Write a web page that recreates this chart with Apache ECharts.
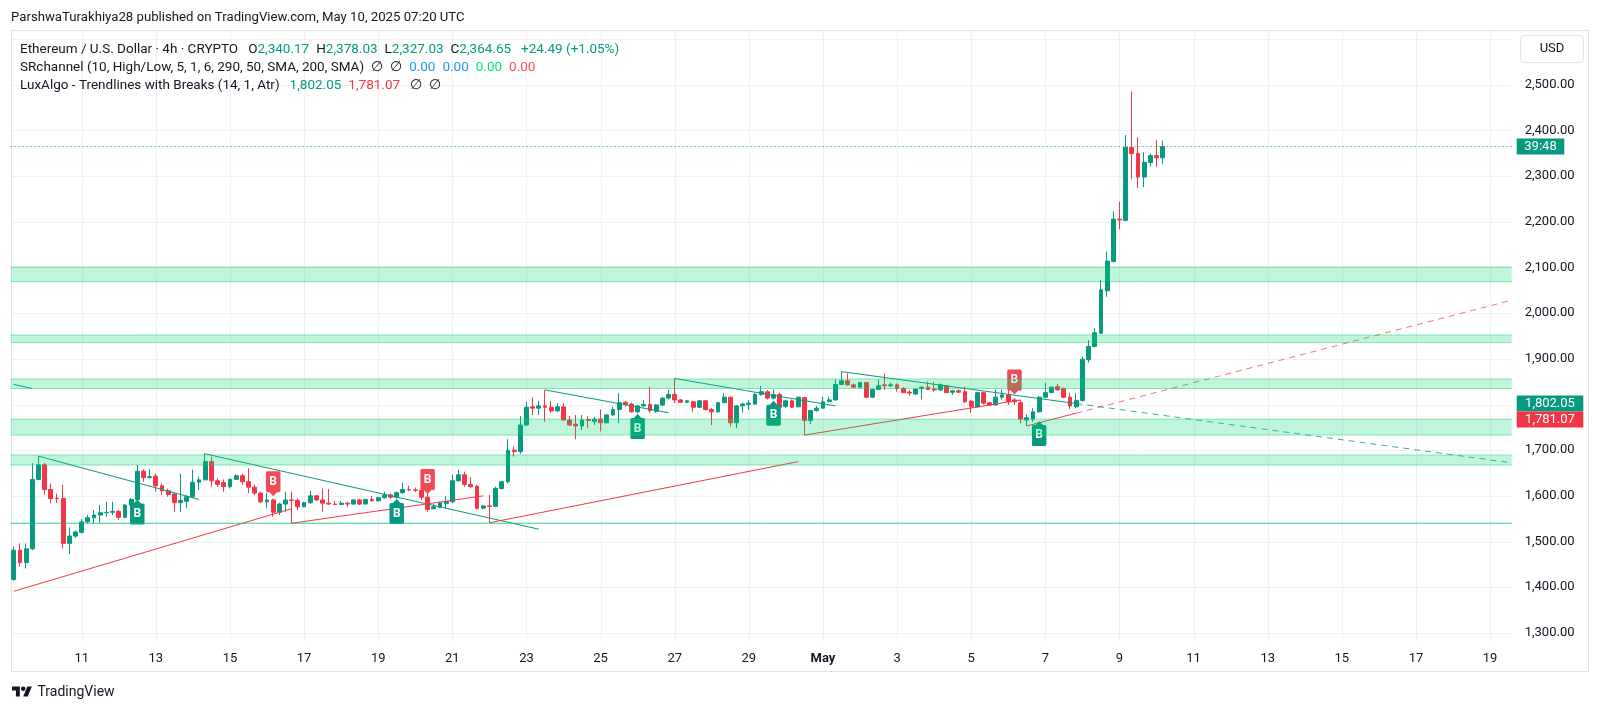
<!DOCTYPE html>
<html><head><meta charset="utf-8">
<script src="https://cdn.jsdelivr.net/npm/echarts@6/dist/echarts.min.js"></script>
<style>html,body{margin:0;padding:0;background:#fff;}#c{width:1600px;height:712px;}</style>
</head><body><div id="c"></div>
<script>
// ---------- data ----------
const startTime = Date.UTC(2025, 3, 9, 4, 0); // first 4h slot
const slotTotal = 243;                         // slots shown on the time axis
// [open, high, low, close] per 4h candle
const candles = [
[1417,1489,1414,1481],[1481,1496,1445,1454],[1454,1496,1441,1484],[1484,1671,1481,1636],[1636,1687,1634,1668],
[1668,1672,1602,1614],[1614,1627,1584,1594],[1595,1605,1584,1594],[1594,1624,1485,1496],[1496,1531,1473,1512],
[1512,1524,1508,1521],[1520,1549,1518,1543],[1543,1558,1540,1552],[1552,1569,1540,1558],[1558,1580,1540,1563],
[1563,1587,1554,1564],[1564,1587,1558,1566],[1566,1569,1547,1553],[1553,1582,1551,1580],[1580,1595,1576,1592],
[1592,1668,1591,1654],[1654,1658,1631,1640],[1640,1658,1638,1642],[1643,1649,1609,1622],[1622,1627,1602,1611],
[1611,1616,1598,1603],[1604,1605,1565,1585],[1585,1649,1565,1590],[1588,1602,1573,1598],[1598,1657,1595,1630],
[1630,1642,1613,1635],[1635,1693,1635,1675],[1675,1686,1620,1633],[1633,1638,1620,1625],[1629,1636,1609,1620],
[1620,1638,1616,1636],[1636,1647,1635,1644],[1644,1649,1624,1631],[1631,1660,1606,1619],[1619,1624,1602,1606],
[1606,1609,1584,1587],[1587,1606,1573,1591],[1591,1594,1554,1564],[1564,1585,1558,1582],[1582,1609,1565,1591],
[1591,1609,1540,1590],[1590,1594,1569,1576],[1576,1587,1575,1585],[1585,1611,1582,1600],[1600,1602,1589,1591],
[1591,1616,1565,1584],[1584,1615,1580,1582],[1582,1589,1580,1581],[1581,1589,1580,1584],[1584,1587,1576,1582],
[1582,1592,1580,1591],[1591,1594,1580,1582],[1582,1594,1582,1592],[1592,1600,1587,1589],[1589,1598,1587,1596],
[1596,1609,1594,1602],[1602,1605,1594,1597],[1597,1609,1594,1607],[1607,1629,1604,1614],[1614,1622,1611,1613],
[1613,1618,1608,1612],[1612,1613,1591,1597],[1597,1606,1565,1570],[1572,1582,1570,1576],[1575,1587,1573,1585],
[1583,1600,1573,1587],[1587,1646,1584,1633],[1633,1657,1631,1646],[1646,1653,1620,1625],[1625,1641,1618,1620],
[1621,1624,1570,1573],[1573,1580,1571,1578],[1578,1602,1541,1577],[1577,1620,1576,1616],[1616,1633,1614,1631],
[1631,1724,1627,1700],[1700,1708,1686,1697],[1697,1775,1692,1755],[1755,1806,1754,1794],[1795,1816,1777,1792],
[1792,1808,1777,1797],[1797,1832,1762,1794],[1794,1808,1782,1786],[1786,1803,1784,1795],[1795,1803,1765,1766],
[1766,1775,1753,1755],[1757,1777,1724,1753],[1753,1777,1744,1766],[1767,1775,1748,1765],[1763,1773,1755,1768],
[1768,1789,1741,1760],[1760,1779,1759,1777],[1777,1795,1775,1789],[1789,1825,1759,1804],[1805,1808,1795,1800],
[1801,1804,1782,1784],[1784,1799,1781,1797],[1797,1810,1795,1800],[1800,1839,1782,1787],[1785,1801,1782,1799],
[1799,1816,1797,1814],[1814,1832,1811,1822],[1822,1857,1803,1810],[1810,1812,1803,1805],[1805,1810,1803,1808],
[1806,1808,1784,1794],[1794,1810,1792,1808],[1808,1810,1787,1789],[1789,1792,1755,1784],[1784,1806,1782,1804],
[1804,1825,1803,1816],[1816,1817,1752,1760],[1760,1799,1748,1797],[1797,1804,1782,1801],[1800,1810,1788,1803],
[1801,1825,1799,1822],[1822,1841,1819,1828],[1828,1832,1811,1814],[1814,1833,1811,1822],[1822,1826,1781,1794],
[1796,1810,1792,1808],[1808,1811,1792,1794],[1795,1817,1794,1816],[1815,1817,1733,1765],[1765,1788,1757,1787],
[1787,1797,1784,1792],[1792,1817,1790,1806],[1807,1817,1804,1810],[1810,1855,1809,1844],[1844,1872,1843,1852],
[1852,1868,1841,1843],[1843,1846,1836,1838],[1838,1850,1836,1848],[1848,1849,1814,1816],[1816,1835,1814,1833],
[1833,1855,1832,1841],[1843,1868,1832,1841],[1841,1848,1838,1843],[1843,1846,1828,1835],[1835,1838,1825,1826],
[1827,1832,1819,1825],[1823,1835,1821,1834],[1835,1839,1811,1838],[1838,1850,1832,1833],[1834,1850,1828,1832],
[1832,1846,1830,1843],[1841,1843,1825,1826],[1827,1832,1821,1830],[1830,1833,1825,1827],[1828,1839,1803,1806],
[1807,1810,1782,1795],[1795,1828,1793,1826],[1826,1828,1800,1803],[1804,1806,1797,1799],[1799,1833,1797,1816],
[1816,1833,1811,1821],[1821,1832,1799,1806],[1810,1814,1799,1806],[1804,1810,1759,1768],[1766,1779,1753,1771],
[1768,1792,1762,1784],[1784,1819,1782,1816],[1816,1848,1814,1826],[1826,1839,1825,1838],[1839,1845,1830,1832],
[1835,1837,1814,1816],[1816,1826,1790,1797],[1795,1825,1792,1809],[1809,1905,1806,1899],[1898,1941,1892,1927],
[1927,1967,1925,1957],[1956,2073,1955,2051],[2049,2135,2036,2114],[2113,2223,2111,2206],[2206,2244,2184,2204],
[2203,2390,2201,2363],[2363,2485,2293,2349],[2350,2385,2274,2298],[2298,2352,2276,2330],[2330,2350,2321,2345],
[2345,2379,2320,2340.16],[2340.17,2378.03,2327.03,2364.65]
];
const srZones = [[2069,2101],[1935.5,1952],[1835,1856],[1733,1768],[1667.5,1689.5],[1539.5,1540.5]];
const upperTrendlines = [
  [[0,1844],[3,1835]], [[4,1687],[30,1592]], [[31,1692],[85,1527]],
  [[86,1832],[106,1782]], [[107,1857],[133,1797]], [[134,1872],[172,1802.05]]
];
const upperExtension = [[172,1802.05],[242,1673.2]];
const lowerTrendlines = [
  [[0,1391],[45,1572]], [[45,1540],[76,1600]], [[77,1541],[127,1675]],
  [[128,1733],[163,1810]], [[164,1753],[172,1781.07]]
];
const lowerExtension = [[172,1781.07],[242,2026.7]];
const breakUpLabels = [[20,1592],[62,1593],[101,1779],[123,1808],[166,1764]];
const breakDownLabels = [[42,1599],[67,1604],[162,1822]];
const priceGridValues = [1300,1400,1500,1600,1700,1800,1900,2000,2100,2200,2300,2400,2500,2600];
const priceLabelValues = [1300,1400,1500,1600,1700,1800,1900,2000,2100,2200,2300,2400,2500];
const lastPrice = 2364.65;
const upperValue = 1802.05, lowerValue = 1781.07;
const countdownText = '39:48';

// ---------- build ----------
const UP = '#089981', DOWN = '#f23645', TXT = '#131722', GRID = '#eef0f4';
const categories = [];
for (let i = 0; i < slotTotal; i++) categories.push(new Date(startTime + i * 4 * 3600e3).toISOString().slice(0, 16));
function isDayTick(index, value) {
  const d = new Date(value + ':00Z');
  return d.getUTCHours() === 0 && d.getUTCDate() % 2 === 1;
}
const dayTickIndices = categories.map((c, i) => isDayTick(i, c) ? i : -1).filter(i => i >= 0);
const fmt = v => v.toLocaleString('en-US', {minimumFractionDigits: 2, maximumFractionDigits: 2});

const chart = echarts.init(document.getElementById('c'), null, {renderer: 'canvas'});
const series = [];
series.push({
  type: 'custom', z: 0, silent: true, data: dayTickIndices.map(i => [i, 2000]),
  renderItem: (p, api) => {
    const cs = p.coordSys; const x = Math.round(api.coord([api.value(0), 2000])[0]) + 0.5;
    return {type: 'line', shape: {x1: x, y1: cs.y, x2: x, y2: cs.y + cs.height}, style: {stroke: GRID, lineWidth: 1}};
  }
});
series.push({
  type: 'custom', z: 0, silent: true, data: priceGridValues.map(v => [0, v]),
  renderItem: (p, api) => {
    const cs = p.coordSys; const y = Math.round(api.coord([0, api.value(1)])[1]) + 0.5;
    return {type: 'line', shape: {x1: cs.x, y1: y, x2: cs.x + cs.width, y2: y}, style: {stroke: GRID, lineWidth: 1}};
  }
});
series.push({
  type: 'candlestick', z: 2, silent: true, barWidth: '70%',
  data: candles.map(c => [c[0], c[3], c[2], c[1]]),
  itemStyle: {color: UP, color0: DOWN, borderColor: UP, borderColor0: DOWN, borderWidth: 1},
  markLine: {silent: true, z: 6, symbol: ['none', 'none'], label: {show: false},
    lineStyle: {color: UP, type: [1, 3], width: 1}, data: [{yAxis: lastPrice}]}
});
upperTrendlines.forEach(seg => series.push({type: 'line', z: 3, silent: true, symbol: 'none', data: seg, lineStyle: {color: UP, width: 1}}));
lowerTrendlines.forEach(seg => series.push({type: 'line', z: 3, silent: true, symbol: 'none', data: seg, lineStyle: {color: DOWN, width: 1}}));
series.push({type: 'line', z: 3, silent: true, symbol: 'none', data: upperExtension, lineStyle: {color: UP, width: 1, type: [6, 5], opacity: 0.8}});
series.push({type: 'line', z: 3, silent: true, symbol: 'none', data: lowerExtension, lineStyle: {color: DOWN, width: 1, type: [6, 5], opacity: 0.7}});
series.push({
  type: 'scatter', z: 4, silent: true, data: breakUpLabels,
  symbol: 'path://M7.25 0 L11 4 L13 4 Q14.5 4 14.5 5.5 L14.5 23.5 Q14.5 25 13 25 L1.5 25 Q0 25 0 23.5 L0 5.5 Q0 4 1.5 4 L3.5 4 Z',
  symbolSize: [14.5, 25], symbolOffset: [0, 12.5], itemStyle: {color: UP, opacity: 1},
  label: {show: true, formatter: 'B', position: 'inside', offset: [0, 2], color: '#fff', fontWeight: 'bold', fontSize: 12, fontFamily: 'Roboto'}
});
series.push({
  type: 'scatter', z: 4, silent: true, data: breakDownLabels,
  symbol: 'path://M0 1.5 Q0 0 1.5 0 L13 0 Q14.5 0 14.5 1.5 L14.5 19.5 Q14.5 21 13 21 L11 21 L7.25 25 L3.5 21 L1.5 21 Q0 21 0 19.5 Z',
  symbolSize: [14.5, 25], symbolOffset: [0, -12.5], itemStyle: {color: '#f24a55', opacity: 1},
  label: {show: true, formatter: 'B', position: 'inside', offset: [0, -2], color: '#fff', fontWeight: 'bold', fontSize: 12, fontFamily: 'Roboto'}
});
series.push({
  type: 'custom', z: 5, silent: true, data: srZones.map(z => [0, z[0], z[1]]),
  renderItem: (p, api) => {
    const cs = p.coordSys;
    const yLo = api.coord([0, api.value(1)])[1], yHi = api.coord([0, api.value(2)])[1];
    const edge = {stroke: 'rgba(0,200,100,0.42)', lineWidth: 1};
    return {type: 'group', children: [
      {type: 'rect', shape: {x: cs.x, y: yHi, width: cs.width, height: yLo - yHi}, style: {fill: 'rgba(0,220,110,0.25)'}},
      {type: 'line', shape: {x1: cs.x, y1: yHi, x2: cs.x + cs.width, y2: yHi}, style: edge},
      {type: 'line', shape: {x1: cs.x, y1: yLo, x2: cs.x + cs.width, y2: yLo}, style: edge}
    ]};
  }
});

const FONT = 'Roboto, "Noto Sans", sans-serif';
const option = {
  animation: false,
  backgroundColor: '#ffffff',
  grid: {left: 10.66, right: 88.3, top: 30, bottom: 70},
  xAxis: {
    type: 'category', data: categories, boundaryGap: true,
    axisLine: {show: false}, axisTick: {show: false}, splitLine: {show: false},
    axisLabel: {
      interval: isDayTick, margin: 10, color: TXT, fontSize: 13, fontFamily: FONT,
      formatter: v => { const d = new Date(v + ':00Z'); return d.getUTCDate() === 1 ? '{b|May}' : String(d.getUTCDate()); },
      rich: {b: {fontWeight: 'bold', fontSize: 13, color: TXT, fontFamily: FONT}}
    }
  },
  yAxis: {
    type: 'value', position: 'right', min: 1280, max: 2620, interval: 20,
    axisLine: {show: false}, axisTick: {show: false}, splitLine: {show: false},
    axisLabel: {margin: 13, color: TXT, fontSize: 13, fontFamily: FONT,
      formatter: v => { const r = Math.round(v); return priceLabelValues.includes(r) && Math.abs(v - r) < 1e-6 ? fmt(r) : ''; }}
  },
  series: series
};
chart.setOption(option);

// ---------- decorations ----------
const yOf = v => chart.convertToPixel({yAxisIndex: 0}, v);
const yLast = yOf(lastPrice), yUp = yOf(upperValue);
let yLow = yOf(lowerValue); if (yLow < yUp + 16) yLow = yUp + 16;
const boxX = 1516.7;
function priceBox(cy, w, color, text) {
  return [
    {type: 'rect', shape: {x: boxX, y: cy - 8, width: w, height: 16}, style: {fill: color}, z: 10},
    {type: 'text', style: {x: boxX + w / 2, y: cy, text: text, fill: '#fff', font: '13px ' + FONT, textAlign: 'center', textVerticalAlign: 'middle'}, z: 11}
  ];
}
const FS = 13.5;
const rich = {
  t: {fill: TXT, fontSize: FS, fontFamily: FONT},
  g: {fill: UP, fontSize: FS, fontFamily: FONT},
  r: {fill: DOWN, fontSize: FS, fontFamily: FONT},
  b: {fill: '#2196f3', fontSize: FS, fontFamily: FONT},
  l: {fill: '#00e676', fontSize: FS, fontFamily: FONT},
  q: {fill: '#ff5252', fontSize: FS, fontFamily: FONT},
  s: {width: 7, fontSize: FS},
  w: {width: 10, fontSize: FS}
};
const line1 = '{t|Ethereum / U.S. Dollar · 4h · CRYPTO}{w|}{t|O}{g|2,340.17}{s|}{t|H}{g|2,378.03}{s|}{t|L}{g|2,327.03}{s|}{t|C}{g|2,364.65}{w|}{g|+24.49 (+1.05%)}';
const line2 = '{t|SRchannel (10, High/Low, 5, 1, 6, 290, 50, SMA, 200, SMA)}{s|}{t|∅}{s|}{t|∅}{s|}{b|0.00}{s|}{b|0.00}{s|}{l|0.00}{s|}{q|0.00}';
const line3 = '{t|LuxAlgo - Trendlines with Breaks (14, 1, Atr)}{w|}{g|1,802.05}{s|}{r|1,781.07}{w|}{t|∅}{s|}{t|∅}';
const graphics = [
  {type: 'rect', shape: {x: 11.5, y: 30.5, width: 1577, height: 641}, style: {fill: 'none', stroke: '#e0e3eb', lineWidth: 1}, z: 1, silent: true},
  {type: 'text', style: {x: 11, y: 18, text: 'ParshwaTurakhiya28 published on TradingView.com, May 10, 2025 07:20 UTC', fill: TXT, font: '13.2px ' + FONT, textVerticalAlign: 'middle'}},
  {type: 'text', style: {x: 20, y: 50, text: line1, rich: rich, textVerticalAlign: 'middle'}, z: 12},
  {type: 'text', style: {x: 20, y: 68, text: line2, rich: rich, textVerticalAlign: 'middle'}, z: 12},
  {type: 'text', style: {x: 20, y: 86, text: line3, rich: rich, textVerticalAlign: 'middle'}, z: 12},
  {type: 'rect', shape: {x: 1520.5, y: 35.5, width: 63, height: 27, r: 4}, style: {fill: '#fff', stroke: '#e0e3eb', lineWidth: 1}, z: 10},
  {type: 'text', style: {x: 1552, y: 49, text: 'USD', fill: TXT, font: '13px ' + FONT, textAlign: 'center', textVerticalAlign: 'middle'}, z: 11},
  ...priceBox(yLast, 47.6, UP, countdownText),
  ...priceBox(yUp, 66.6, UP, fmt(upperValue)),
  ...priceBox(yLow, 66.6, DOWN, fmt(lowerValue)),
  {type: 'polygon', shape: {points: [[12,686.5],[19.84,686.5],[19.84,696.6],[15.92,696.6],[15.92,690.42],[12,690.42]]}, style: {fill: TXT}},
  {type: 'polygon', shape: {points: [[27.68,696.6],[23.2,696.6],[27.4,686.5],[31.88,686.5]]}, style: {fill: TXT}},
  {type: 'circle', shape: {cx: 23.2, cy: 688.74, r: 2.24}, style: {fill: TXT}},
  {type: 'text', style: {x: 37.5, y: 692, text: 'TradingView', fill: TXT, font: '14px ' + FONT, textVerticalAlign: 'middle'}}
];
chart.setOption({graphic: graphics});
</script>
</body></html>
